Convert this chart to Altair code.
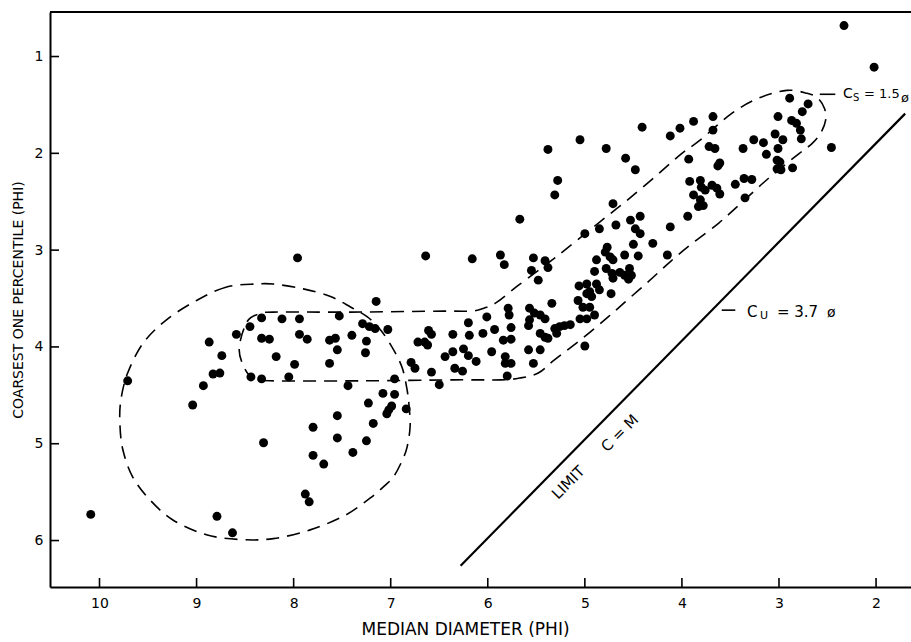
import altair as alt
import pandas as pd

# ---------------- data ----------------
median_phi = [
    # left / outer group
    10.09, 9.71, 9.04, 8.93, 8.87, 8.83, 8.76, 8.74, 8.59, 8.45,
    8.33, 8.33, 8.25, 8.18, 8.44, 8.33, 8.31, 8.79, 8.63,
    # 8 - 6.5 phi
    7.96, 6.64, 7.15, 8.12, 7.94, 7.53, 7.29, 7.22, 7.16, 7.03,
    7.94, 7.86, 7.63, 7.57, 7.40, 7.25, 7.55, 7.26, 7.99, 7.63,
    8.05, 6.61, 6.58, 6.65, 6.62, 6.72, 6.79, 6.75, 6.58, 6.50,
    6.96, 7.44, 7.08, 6.96, 7.23, 6.99, 7.02, 7.04, 6.84, 7.55,
    7.18, 7.80, 7.55, 7.25, 7.39, 7.80, 7.69, 7.88, 7.84,
    # 6.5 - 5 phi
    6.16, 5.87, 5.83, 5.53, 5.41, 5.38, 5.55, 5.48, 4.90, 5.06,
    4.98, 5.07, 4.98, 4.93, 5.02, 4.95, 5.05, 4.98, 4.90, 5.34,
    5.79, 5.78, 5.57, 5.52, 5.46, 5.41, 5.57, 5.58, 6.01, 6.20,
    5.76, 5.93, 6.05, 6.36, 6.19, 5.46, 5.41, 5.38, 5.31, 5.26,
    5.21, 5.15, 5.29, 5.84, 5.76, 6.44, 6.36, 6.25, 6.20, 5.96,
    5.58, 5.46, 5.82, 5.82, 5.76, 6.12, 6.34, 6.26, 5.53, 5.80,
    5.00,
    # 5.7 - 4.3 phi upper
    4.41, 5.05, 5.38, 4.78, 4.58, 4.48, 5.28, 5.31, 5.67, 4.71,
    4.43, 4.53, 4.48, 4.43, 4.68, 4.85, 5.00, 4.30, 4.50, 4.77,
    4.79, 4.59, 4.45, 4.74, 4.71, 4.88,
    # 4.9 - 4.1 phi middle
    4.15, 4.78, 4.72, 4.71, 4.64, 4.59, 4.54, 4.52, 4.55, 4.95,
    4.88, 4.85, 4.73,
    # 4.1 - 2.7 phi
    2.89, 2.70, 2.76, 3.01, 2.87, 2.82, 2.78, 2.77, 3.04, 2.96,
    3.26, 3.16, 3.01, 3.13, 3.02, 2.99, 3.02, 2.98, 2.86, 3.37,
    3.68, 3.88, 4.02, 4.12, 3.68, 3.72, 3.66, 3.93, 3.61, 3.63,
    3.92, 3.81, 3.80, 3.76, 3.69, 3.64, 3.61, 3.88, 3.81, 3.83,
    3.78, 3.45, 3.36, 3.28, 3.35, 3.94,
    # isolated
    2.33, 2.02, 2.46, 4.12,
]
coarsest_phi = [
    5.73, 4.35, 4.60, 4.40, 3.95, 4.28, 4.27, 4.09, 3.87, 3.79,
    3.70, 3.91, 3.92, 4.10, 4.31, 4.33, 4.99, 5.75, 5.92,

    3.08, 3.06, 3.53, 3.71, 3.71, 3.68, 3.76, 3.79, 3.81, 3.82,
    3.87, 3.92, 3.93, 3.91, 3.88, 3.94, 4.03, 4.06, 4.18, 4.17,
    4.31, 3.83, 3.87, 3.95, 3.98, 3.95, 4.16, 4.22, 4.26, 4.39,
    4.33, 4.40, 4.48, 4.49, 4.58, 4.61, 4.65, 4.69, 4.64, 4.71,
    4.79, 4.83, 4.94, 4.97, 5.09, 5.12, 5.21, 5.52, 5.60,

    3.09, 3.05, 3.15, 3.08, 3.11, 3.18, 3.21, 3.31, 3.22, 3.37,
    3.35, 3.52, 3.45, 3.48, 3.59, 3.59, 3.71, 3.71, 3.67, 3.55,
    3.60, 3.67, 3.60, 3.65, 3.67, 3.71, 3.72, 3.78, 3.69, 3.75,
    3.80, 3.82, 3.86, 3.87, 3.88, 3.86, 3.90, 3.91, 3.81, 3.79,
    3.78, 3.77, 3.86, 3.93, 3.92, 4.10, 4.05, 4.02, 4.09, 4.05,
    4.03, 4.03, 4.10, 4.17, 4.17, 4.15, 4.22, 4.25, 4.17, 4.30,
    3.99,

    1.73, 1.86, 1.96, 1.95, 2.05, 2.17, 2.28, 2.43, 2.68, 2.52,
    2.65, 2.69, 2.78, 2.83, 2.74, 2.78, 2.83, 2.93, 2.94, 2.97,
    3.02, 3.05, 3.06, 3.07, 3.10, 3.10,

    3.05, 3.19, 3.24, 3.29, 3.23, 3.26, 3.19, 3.26, 3.30, 3.43,
    3.35, 3.41, 3.45,

    1.43, 1.49, 1.57, 1.62, 1.66, 1.69, 1.76, 1.85, 1.80, 1.86,
    1.86, 1.89, 1.95, 2.01, 2.07, 2.09, 2.16, 2.17, 2.15, 1.95,
    1.62, 1.67, 1.74, 1.82, 1.76, 1.93, 1.95, 2.06, 2.10, 2.13,
    2.29, 2.28, 2.35, 2.38, 2.33, 2.36, 2.42, 2.43, 2.48, 2.55,
    2.54, 2.32, 2.26, 2.27, 2.46, 2.65,

    0.68, 1.11, 1.94, 2.76,
]
assert len(median_phi) == len(coarsest_phi)

# dashed envelope outlines
outer_median = [8.38, 8.69, 9.00, 9.31, 9.55, 9.71, 9.78, 9.79, 9.76, 9.66,
                9.48, 9.24, 8.90, 8.55, 8.21, 7.83, 7.47, 7.21, 7.07, 6.97,
                6.88, 6.83, 6.80, 6.81, 6.83, 6.88, 6.97, 7.10, 7.24, 7.41,
                7.62, 7.90, 8.21]
outer_coarsest = [3.35, 3.38, 3.52, 3.72, 3.96, 4.27, 4.55, 4.79, 5.06, 5.34,
                  5.58, 5.79, 5.94, 5.99, 5.98, 5.89, 5.74, 5.56, 5.44, 5.34,
                  5.17, 5.03, 4.82, 4.62, 4.45, 4.22, 4.03, 3.83, 3.69, 3.59,
                  3.48, 3.40, 3.35]

inner_median = [8.56, 8.48, 8.36, 8.21, 7.41, 6.45, 6.17, 6.04, 5.91, 5.68,
                5.27, 4.86, 4.57, 4.24, 4.00, 3.82, 3.49, 3.21, 2.92, 2.71,
                2.60, 2.53, 2.52, 2.57, 2.66, 2.79, 3.11, 3.43, 3.62, 3.88,
                4.11, 4.34, 4.59, 4.76, 5.01, 5.32, 5.48, 5.66, 5.86, 6.35,
                7.30, 8.24, 8.42, 8.52]
inner_coarsest = [4.00, 3.74, 3.66, 3.64, 3.64, 3.63, 3.63, 3.60, 3.54, 3.36,
                  3.05, 2.72, 2.49, 2.21, 2.00, 1.87, 1.59, 1.43, 1.35, 1.38,
                  1.43, 1.54, 1.66, 1.79, 1.90, 2.00, 2.26, 2.55, 2.72, 2.92,
                  3.11, 3.32, 3.54, 3.69, 3.90, 4.14, 4.27, 4.32, 4.34, 4.34,
                  4.35, 4.35, 4.32, 4.19]

limit_median = [6.28, 1.70]
limit_coarsest = [6.26, 1.59]

x_ticks = [10, 9, 8, 7, 6, 5, 4, 3, 2]
y_ticks = [1, 2, 3, 4, 5, 6]

# annotation anchors
cs_dash_median = [2.58, 2.42]
cs_level = 1.39
cs_text_median = 2.34
cu_dash_median = [3.59, 3.45]
cu_level = 3.62
cu_text_median = 3.33
limit_words = ["LIMIT", "C = M"]
limit_words_median = [5.17, 4.64]
limit_words_coarsest = [5.40, 4.89]

# ---------------- chart ----------------
FONT = "DejaVu Sans"
W, H = 861, 575
xs = alt.Scale(domain=[1.64, 10.51], reverse=True, nice=False, zero=False)
ys = alt.Scale(domain=[0.54, 6.48], reverse=True, nice=False, zero=False)


def X(field="median:Q", **kw):
    return alt.X(field, scale=xs, **kw)


def Y(field="coarsest:Q", **kw):
    return alt.Y(field, scale=ys, **kw)


pts_df = pd.DataFrame({"median": median_phi, "coarsest": coarsest_phi})

points = alt.Chart(pts_df).mark_circle(size=80, color="black", opacity=1).encode(
    x=X(axis=alt.Axis(values=x_ticks, title="MEDIAN DIAMETER (PHI)", format="d",
                      tickSize=0, labelPadding=9, titlePadding=11, titleX=415,
                      labelFontSize=14, titleFontSize=17, grid=False,
                      labelFlush=False, labelOverlap=False)),
    y=Y(axis=alt.Axis(values=y_ticks, title="COARSEST ONE PERCENTILE (PHI)", format="d",
                      tickSize=0, labelPadding=7, titlePadding=9,
                      labelFontSize=14, titleFontSize=14, grid=False,
                      labelFlush=False, labelOverlap=False)),
)

outer_df = pd.DataFrame({"median": outer_median, "coarsest": outer_coarsest,
                         "i": range(len(outer_median))})
inner_df = pd.DataFrame({"median": inner_median, "coarsest": inner_coarsest,
                         "i": range(len(inner_median))})

dash_style = dict(color="black", strokeWidth=1.6, strokeDash=[13, 8],
                  interpolate="cardinal-closed")
outer = alt.Chart(outer_df).mark_line(**dash_style).encode(
    x=X(), y=Y(), order=alt.Order("i:Q"))
inner = alt.Chart(inner_df).mark_line(**dash_style).encode(
    x=X(), y=Y(), order=alt.Order("i:Q"))

limit_df = pd.DataFrame({"median": limit_median, "coarsest": limit_coarsest,
                         "i": [0, 1]})
limit = alt.Chart(limit_df).mark_line(color="black", strokeWidth=2.2).encode(
    x=X(), y=Y(), order=alt.Order("i:Q"))

# inward tick marks
xt_df = pd.DataFrame({"median": x_ticks})
yt_df = pd.DataFrame({"coarsest": y_ticks})
xticks = alt.Chart(xt_df).mark_rule(color="black", strokeWidth=1.6).encode(
    x=X(), y=alt.value(H), y2=alt.value(H - 9))
yticks = alt.Chart(yt_df).mark_rule(color="black", strokeWidth=1.6).encode(
    y=Y(), x=alt.value(0), x2=alt.value(9))

# top frame line
top_line = alt.Chart(pd.DataFrame({"a": [0]})).mark_rule(
    color="black", strokeWidth=2).encode(
    x=alt.value(0), x2=alt.value(W), y=alt.value(0))

# leader dashes for the sorting labels
dash_df = pd.DataFrame({"median": [cs_dash_median[0], cu_dash_median[0]],
                        "median2": [cs_dash_median[1], cu_dash_median[1]],
                        "coarsest": [cs_level, cu_level]})
dashes = alt.Chart(dash_df).mark_rule(color="black", strokeWidth=1.6).encode(
    x=X(), x2="median2:Q", y=Y())


def label(text, xm, yc, size, dx=0, dy=0):
    df = pd.DataFrame({"median": [xm], "coarsest": [yc], "t": [text]})
    return alt.Chart(df).mark_text(align="left", baseline="middle", font=FONT,
                                   fontSize=size, dx=dx, dy=dy, color="black").encode(
        x=X(), y=Y(), text="t:N")


cs_parts = [
    label("C", cs_text_median, cs_level, 14),
    label("S", cs_text_median, cs_level, 10, dx=10, dy=4),
    label("= 1.5", cs_text_median, cs_level, 13, dx=21),
    label("ø", cs_text_median, cs_level, 13, dx=58, dy=4),
]
cu_parts = [
    label("C", cu_text_median, cu_level + 0.02, 15),
    label("U", cu_text_median, cu_level + 0.02, 11, dx=13, dy=4),
    label("= 3.7", cu_text_median, cu_level + 0.02, 15, dx=30),
    label("ø", cu_text_median, cu_level + 0.02, 14, dx=80, dy=1),
]

limit_text = alt.Chart(pd.DataFrame({"median": limit_words_median,
                                     "coarsest": limit_words_coarsest,
                                     "t": limit_words})).mark_text(
    align="center", baseline="middle", angle=315, font=FONT, fontSize=15,
    color="black").encode(x=X(), y=Y(), text="t:N")

chart = alt.layer(
    outer, inner, limit, xticks, yticks, top_line, dashes, points,
    limit_text, *cs_parts, *cu_parts,
).properties(
    width=W, height=H,
    autosize=alt.AutoSizeParams(type="none"),
    padding={"left": 50, "top": 12, "right": 0, "bottom": 55},
    background="white",
).configure_view(stroke=None).configure_axis(
    domainColor="black", domainWidth=2, labelColor="black", titleColor="black",
    labelFont=FONT, titleFont=FONT, titleFontWeight="normal",
)

chart.save("out.html", embed_options={"renderer": "svg", "actions": False})
